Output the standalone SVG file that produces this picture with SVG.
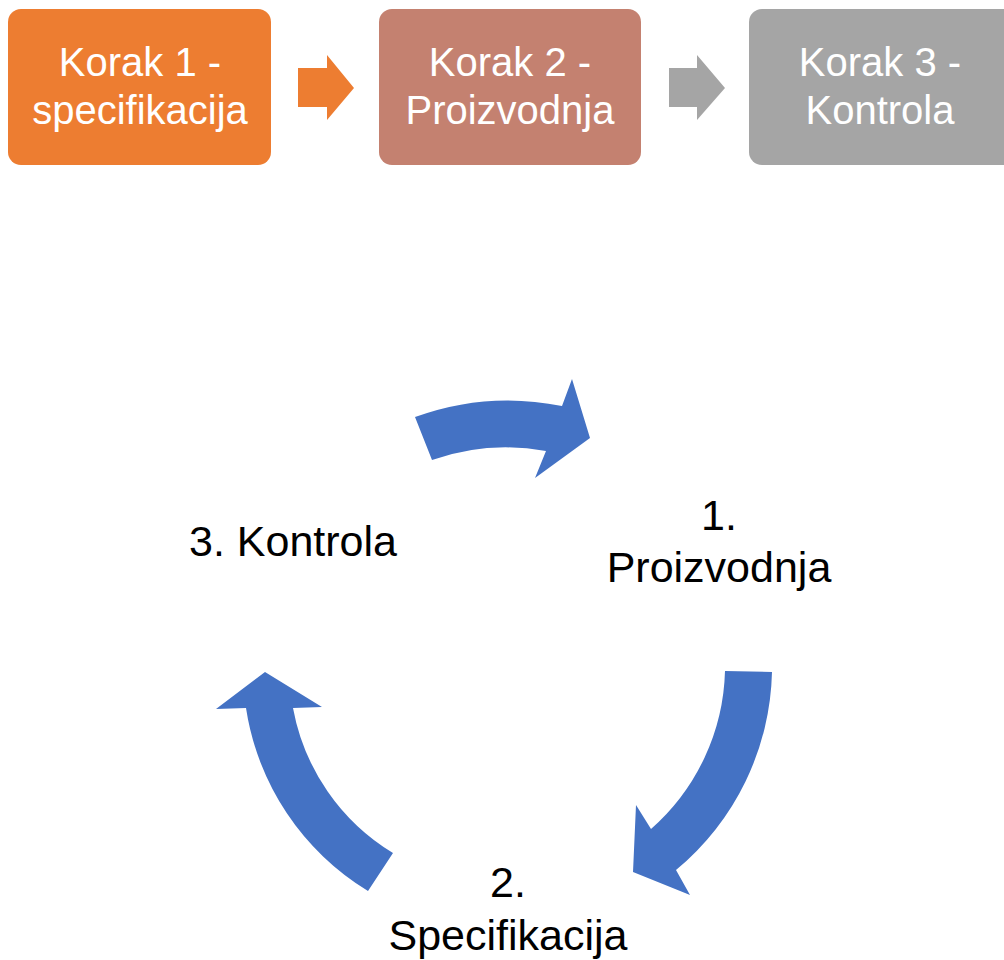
<svg xmlns="http://www.w3.org/2000/svg" width="1004" height="960" viewBox="0 0 1004 960">
<style>
.box-t{font-family:"Liberation Sans",Arial,sans-serif;font-size:40px;fill:#ffffff;text-anchor:middle}
.lbl{font-family:"Liberation Sans",Arial,sans-serif;font-size:43px;fill:#000000;text-anchor:middle}
.cyc{fill:#4472C4}
</style>
<rect width="1004" height="960" fill="#ffffff"/>
<g id="step1">
<rect x="8" y="9" width="263" height="156" rx="13" fill="#ED7D31"/>
<text class="box-t" x="140" y="76">Korak 1 -</text>
<text class="box-t" x="140" y="124">specifikacija</text>
</g>
<g id="step2">
<rect x="379" y="9" width="262" height="156" rx="13" fill="#C48170"/>
<text class="box-t" x="510" y="76">Korak 2 -</text>
<text class="box-t" x="510" y="124">Proizvodnja</text>
</g>
<g id="step3">
<rect x="749" y="9" width="270" height="156" rx="13" fill="#A5A5A5"/>
<text class="box-t" x="880" y="76">Korak 3 -</text>
<text class="box-t" x="880" y="124">Kontrola</text>
</g>
<g id="connectors">
<path d="M298,68 H327 V55 L354,88 L327,120 V107 H298 Z" fill="#ED7D31"/>
<path d="M669,68 H697 V55 L725,88 L697,120 V107 H669 Z" fill="#A5A5A5"/>
<path class="cyc" d="M415,417 A271,271 0 0 1 562,406 L572,379 L590,438 L535,478 L546,451 A225,225 0 0 0 432,460 Z"/>
<path class="cyc" d="M772,672 A265,265 0 0 1 676,870 L690,895 L633,872 L636,805 L651,829 A218,218 0 0 0 725,671 Z"/>
<path class="cyc" d="M368,891 A260,260 0 0 1 246,708 L216,709 L265,672 L322,707 L293,708 A215,215 0 0 0 393,853 Z"/>
</g>
<g id="node1">
<text class="lbl" x="719" y="530">1.</text>
<text class="lbl" x="719" y="582">Proizvodnja</text>
</g>
<g id="node2">
<text class="lbl" x="508" y="897">2.</text>
<text class="lbl" x="508" y="950">Specifikacija</text>
</g>
<g id="node3">
<text class="lbl" x="293" y="556">3. Kontrola</text>
</g>
</svg>
